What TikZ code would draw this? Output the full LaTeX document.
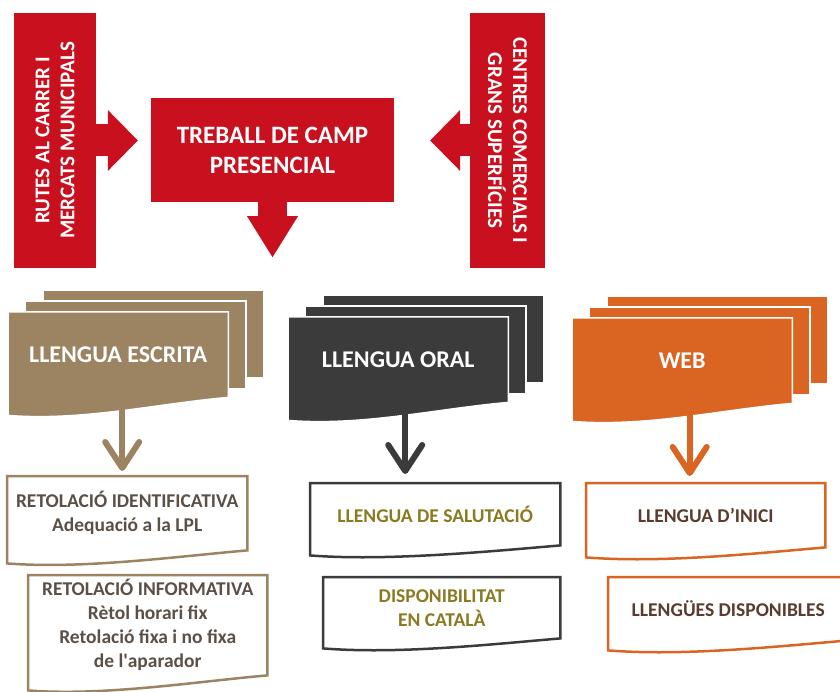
\documentclass[tikz,border=0pt]{standalone}
\usepackage{fontspec}
\setmainfont{Carlito}
\usetikzlibrary{calc,positioning,backgrounds,arrows.meta}

\definecolor{campred}{HTML}{C8101E}
\definecolor{escrita}{HTML}{9C8463}
\definecolor{oral}{HTML}{3B3B3B}
\definecolor{webor}{HTML}{DA6421}
\definecolor{txtbrown}{HTML}{5B5047}
\definecolor{txtolive}{HTML}{8A7A22}
\definecolor{txtweb}{HTML}{5A3B2E}

% outline of a sheet with a wavy bottom edge
\newcommand{\wavyshape}[2]{(#1.north west) -- (#1.north east) -- (#1.south east)
  .. controls +(-70,6) and +(75,6) .. ($(#1.south west)+(0,#2)$) -- cycle}
% three stacked sheets behind a front node
\newcommand{\sheetstack}[2]{%
  \filldraw[fill=#2, draw=white, line width=1.5pt] ($(#1.north west)+(35,-22)$) rectangle ($(#1.south east)+(35,-20)$);
  \filldraw[fill=#2, draw=white, line width=1.5pt] ($(#1.north west)+(17.5,-11)$) rectangle ($(#1.south east)+(17.5,-9)$);
  \filldraw[fill=#2, draw=white, line width=1.5pt] \wavyshape{#1}{18};}

\tikzset{
  redbox/.style={fill=campred, text=white, align=center, inner sep=0pt,
    font=\bfseries\fontsize{21}{25}\selectfont},
  stack/.style={text=white, anchor=north west, inner sep=0pt,
    minimum width=220pt, minimum height=85pt,
    font=\bfseries\fontsize{24}{28}\selectfont},
  wavebox/.style={anchor=north west, inner sep=0pt, align=center,
    font=\bfseries\fontsize{19.5}{24}\selectfont},
  bigarrow/.style={campred, line width=32pt,
    -{Triangle[length=30pt, width=61pt, line width=0pt]}},
  campdown/.style={campred, line width=29pt,
    -{Triangle[length=41pt, width=51pt, line width=0pt]}},
  smallarrow/.style={line width=6pt,
    -{Straight Barb[round, length=26pt, width=34pt]}},
}

\begin{document}
\begin{tikzpicture}[x=1pt, y=-1pt]
    \useasboundingbox (0,0) rectangle (840,692);
    % field work
    \path (55,140.5) node [redbox, rotate=90, minimum width=255pt, minimum height=82pt] (rutes) {RUTES AL CARRER I\\MERCATS MUNICIPALS};
    \path (507.5,140.5) node [redbox, rotate=-90, minimum width=255pt, minimum height=75pt] (centres) {CENTRES COMERCIALS I\\GRANS SUPERFÍCIES};
    \path (272.5,150) node [redbox, minimum width=243pt, minimum height=104pt,
      font=\bfseries\fontsize{25}{30}\selectfont] (camp) {TREBALL DE CAMP\\PRESENCIAL};
    \draw [bigarrow, shorten >=13pt] (rutes.south) -- (rutes.south -| camp.west);
    \draw [bigarrow, shorten >=36pt] (centres.south) -- (centres.south -| camp.east);
    \coordinate [below=55pt of camp.south] (campout);
    \draw [campdown] (camp.south) -- (campout);

    % three kinds of language
    \path (8,312) node [stack] (esc) {LLENGUA ESCRITA};
    \path (288,317) node [stack] (oral) {LLENGUA ORAL};
    \path (572,318) node [stack] (web) {WEB};

    % what is checked
    \path (7,476) node [wavebox, text=txtbrown, minimum width=240pt, minimum height=74pt] (ident) {RETOLACIÓ IDENTIFICATIVA\\Adequació a la LPL};
    \path (28,575) node [wavebox, text=txtbrown, minimum width=239pt, minimum height=100pt] (info) {RETOLACIÓ INFORMATIVA\\Rètol horari fix\\Retolació fixa i no fixa\\de l\textquotesingle aparador};
    \path (310,483) node [wavebox, text=txtolive, minimum width=250pt, minimum height=62pt] (salut) {LLENGUA DE SALUTACIÓ};
    \path (323,577) node [wavebox, text=txtolive, minimum width=237pt, minimum height=61pt] (catala) {DISPONIBILITAT\\EN CATALÀ};
    \path (586,483) node [wavebox, text=txtweb, minimum width=239pt, minimum height=64pt] (inici) {LLENGUA D’INICI};
    \path (608,577) node [wavebox, text=txtweb, minimum width=240pt, minimum height=63pt] (llengues) {LLENGÜES DISPONIBLES};

    \begin{scope}[on background layer]
        \sheetstack{esc}{escrita}
        \sheetstack{oral}{oral}
        \sheetstack{web}{webor}
        \filldraw [fill=white, draw=escrita, line width=2.5pt] \wavyshape{ident}{13};
        \filldraw [fill=white, draw=escrita, line width=2.5pt] \wavyshape{info}{15};
        \filldraw [fill=white, draw=oral, line width=2.5pt] \wavyshape{salut}{10};
        \filldraw [fill=white, draw=oral, line width=2.5pt] \wavyshape{catala}{10};
        \filldraw [fill=white, draw=webor, line width=2.5pt] \wavyshape{inici}{10};
        \filldraw [fill=white, draw=webor, line width=2.5pt] \wavyshape{llengues}{10};
    \end{scope}

    \draw [smallarrow, escrita, shorten >=5pt] ([xshift=4pt]esc.south) -- ([xshift=4pt]esc.south |- ident.north);
    \draw [smallarrow, oral, shorten >=9pt] ([xshift=7pt]oral.south) -- ([xshift=7pt]oral.south |- salut.north);
    \draw [smallarrow, webor, shorten >=7pt] ([xshift=7.5pt]web.south) -- ([xshift=7.5pt]web.south |- inici.north);
\end{tikzpicture}
\end{document}
